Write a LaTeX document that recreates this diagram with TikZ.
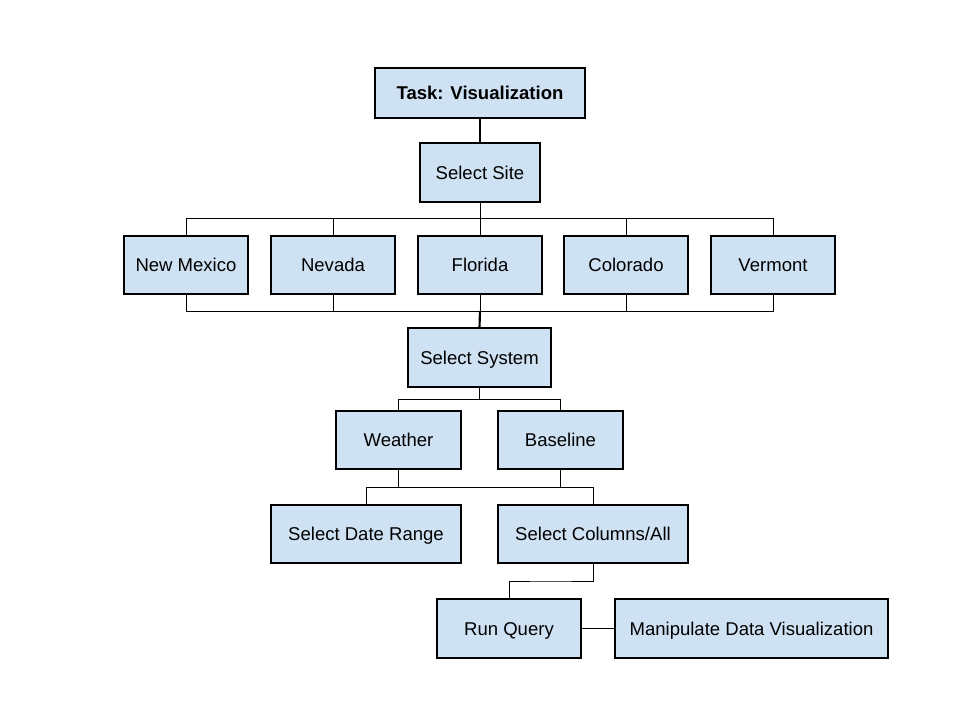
\documentclass[tikz,border=0pt]{standalone}
\usepackage{fontspec}
\setmainfont{Liberation Sans}
\usepackage{tikz}
\definecolor{boxblue}{RGB}{207,226,243}
\tikzset{%
    box/.style={%
        draw=black, fill=boxblue, line width=0.8pt, inner sep=0pt,
        font=\fontsize{13.9}{16}\selectfont, align=center,
        text height=1.02em, text depth=0pt
    },
    box size/.style 2 args={minimum width=#1*0.75pt, minimum height=#2*0.75pt}
}
\begin{document}
\begin{tikzpicture}[x=0.75pt,y=-0.75pt,line width=0.75pt,
  thick link/.style={line width=1.6pt}]
  \useasboundingbox (0,0) rectangle (960,720);

  \node[box,box size={210}{50},font=\fontsize{13.9}{16}\selectfont\bfseries] (task) at (480,93) {Task: Visualization};
  \node[box,box size={120}{59}] (site) at (480,172.5) {Select Site};
  \node[box,box size={124}{58}] (nm) at (186,265) {New Mexico};
  \node[box,box size={124}{58}] (nv) at (333,265) {Nevada};
  \node[box,box size={124}{58}] (fl) at (480,265) {Florida};
  \node[box,box size={124}{58}] (co) at (626,265) {Colorado};
  \node[box,box size={124}{58}] (vt) at (773,265) {Vermont};
  \node[box,box size={143}{59}] (system) at (479.5,357.5) {Select System};
  \node[box,box size={125}{58}] (weather) at (398.5,440) {Weather};
  \node[box,box size={125}{58}] (baseline) at (560.5,440) {Baseline};
  \node[box,box size={190}{58}] (dates) at (366,534) {Select Date Range};
  \node[box,box size={190}{58}] (columns) at (593,534) {Select Columns/All};
  \node[box,box size={144}{59}] (query) at (509,628.5) {Run Query};
  \node[box,box size={273}{59}] (manip) at (751.5,628.5) {Manipulate Data Visualization};

  \coordinate (site bus) at (480,219);
  \coordinate (state bus) at (480,311);
  \coordinate (system bus) at (479.5,399);
  \coordinate (source bus) at (480,487);
  \coordinate (query bus) at (550,581);

  \draw[thick link] (task) -- (site);
  \draw (site.south) -- (site bus);
  \foreach \s in {nm,nv,fl,co,vt}
    \draw (site bus) -| (\s.north);
  \foreach \s in {nm,nv,fl,co,vt}
    \draw (\s.south) |- (state bus);
  \draw[thick link] (state bus) -- (system.north);
  \draw (system.south) -- (system bus);
  \foreach \s in {weather,baseline}
    \draw (system bus) -| (\s.north);
  \foreach \s in {weather,baseline}
    \draw (\s.south) |- (source bus);
  \foreach \s in {dates,columns}
    \draw (source bus) -| (\s.north);
  \draw (columns.south) |- (query bus) -| (query.north);
  \draw (query) -- (manip);
\end{tikzpicture}
\end{document}
